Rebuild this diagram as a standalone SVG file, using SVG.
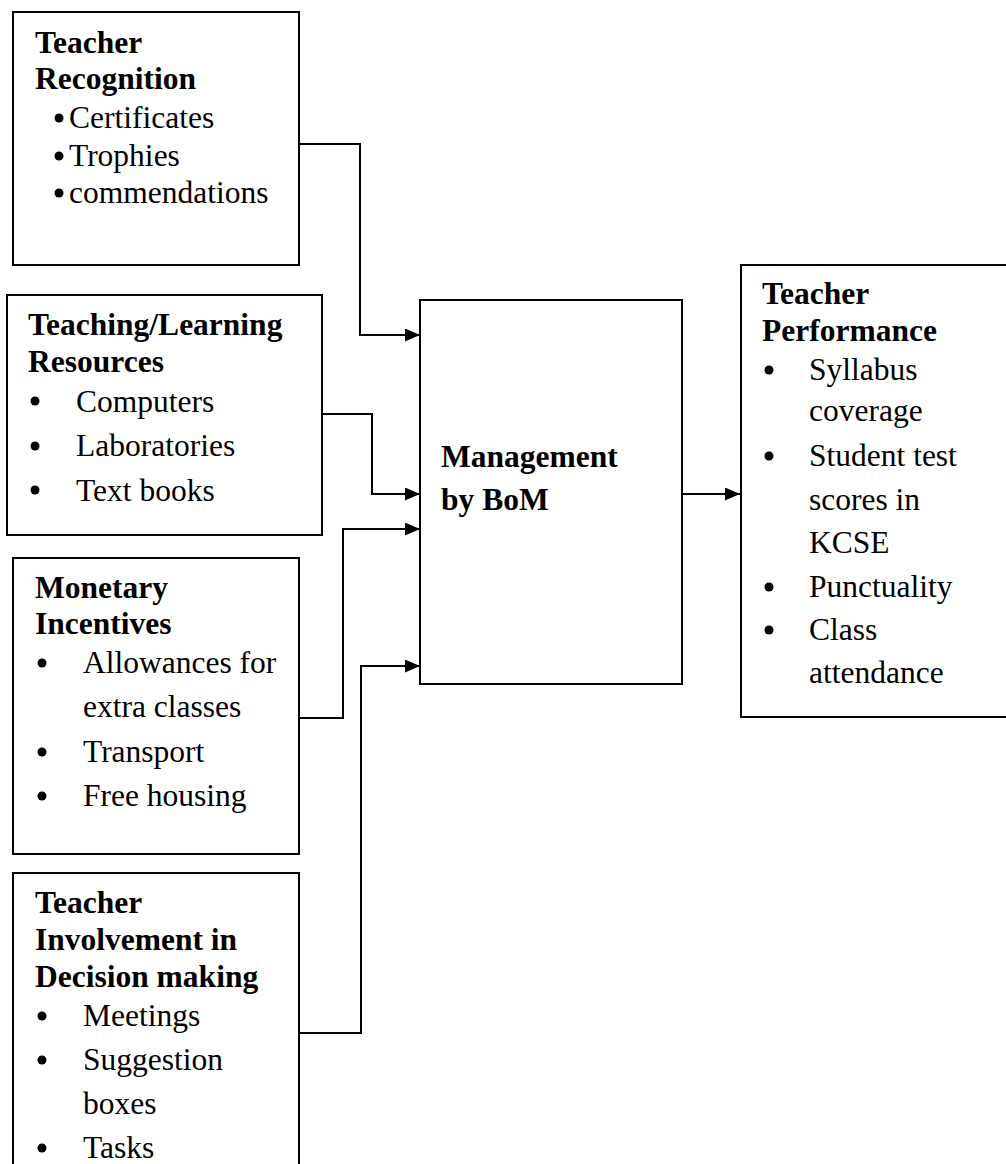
<svg xmlns="http://www.w3.org/2000/svg" width="1006" height="1164" viewBox="0 0 1006 1164">
<style>
  .box { fill: #ffffff; stroke: #000000; stroke-width: 2; }
  .conn { fill: none; stroke: #000000; stroke-width: 2; }
  text { font-family: "Liberation Serif", "Times New Roman", serif; font-size: 31.5px; fill: #000000; }
  .title { font-weight: bold; }
  .dot { fill: #000000; }
</style>
<defs>
  <marker id="arrow" markerUnits="userSpaceOnUse" markerWidth="16" markerHeight="14" refX="15" refY="6.5" orient="auto">
    <path d="M0,0 L15,6.5 L0,13 Z" fill="#000000"/>
  </marker>
</defs>
<rect width="1006" height="1164" fill="#ffffff"/>

<g id="connectors">
  <polyline class="conn" points="299,144 360,144 360,335 420,335" marker-end="url(#arrow)"/>
  <polyline class="conn" points="322,414 372,414 372,494 420,494" marker-end="url(#arrow)"/>
  <polyline class="conn" points="299,718 343,718 343,529 420,529" marker-end="url(#arrow)"/>
  <polyline class="conn" points="299,1033 361,1033 361,666 420,666" marker-end="url(#arrow)"/>
  <line class="conn" x1="682" y1="494" x2="740" y2="494" marker-end="url(#arrow)"/>
</g>

<g id="teacher-recognition">
  <rect class="box" x="13" y="12" width="286" height="253"/>
  <text class="title" x="35" y="53">Teacher</text>
  <text class="title" x="35" y="89">Recognition</text>
  <circle class="dot" cx="59" cy="118" r="4.5"/>
  <text x="69" y="128">Certificates</text>
  <circle class="dot" cx="59" cy="156" r="4.5"/>
  <text x="69" y="166">Trophies</text>
  <circle class="dot" cx="59" cy="193" r="4.5"/>
  <text x="69" y="203">commendations</text>
</g>

<g id="teaching-learning-resources">
  <rect class="box" x="7" y="295" width="315" height="240"/>
  <text class="title" x="28" y="335">Teaching/Learning</text>
  <text class="title" x="28" y="372">Resources</text>
  <circle class="dot" cx="35" cy="401" r="4.5"/>
  <text x="76" y="412">Computers</text>
  <circle class="dot" cx="35" cy="446" r="4.5"/>
  <text x="76" y="456">Laboratories</text>
  <circle class="dot" cx="35" cy="490" r="4.5"/>
  <text x="76" y="501">Text books</text>
</g>

<g id="monetary-incentives">
  <rect class="box" x="13" y="558" width="286" height="296"/>
  <text class="title" x="35" y="598">Monetary</text>
  <text class="title" x="35" y="634">Incentives</text>
  <circle class="dot" cx="42" cy="663" r="4.5"/>
  <text x="83" y="673">Allowances for</text>
  <text x="83" y="717">extra classes</text>
  <circle class="dot" cx="42" cy="752" r="4.5"/>
  <text x="83" y="762">Transport</text>
  <circle class="dot" cx="42" cy="796" r="4.5"/>
  <text x="83" y="806">Free housing</text>
</g>

<g id="teacher-involvement">
  <rect class="box" x="13" y="873" width="286" height="300"/>
  <text class="title" x="35" y="913">Teacher</text>
  <text class="title" x="35" y="950">Involvement in</text>
  <text class="title" x="35" y="987">Decision making</text>
  <circle class="dot" cx="42" cy="1016" r="4.5"/>
  <text x="83" y="1026">Meetings</text>
  <circle class="dot" cx="42" cy="1060" r="4.5"/>
  <text x="83" y="1070">Suggestion</text>
  <text x="83" y="1114">boxes</text>
  <circle class="dot" cx="42" cy="1148" r="4.5"/>
  <text x="83" y="1158">Tasks</text>
</g>

<g id="management-by-bom">
  <rect class="box" x="420" y="300" width="262" height="384"/>
  <text class="title" x="441" y="467">Management</text>
  <text class="title" x="441" y="510">by BoM</text>
</g>

<g id="teacher-performance">
  <rect class="box" x="741" y="265" width="280" height="452"/>
  <text class="title" x="762" y="304">Teacher</text>
  <text class="title" x="762" y="341">Performance</text>
  <circle class="dot" cx="769" cy="370" r="4.5"/>
  <text x="809" y="380">Syllabus</text>
  <text x="809" y="421">coverage</text>
  <circle class="dot" cx="769" cy="456" r="4.5"/>
  <text x="809" y="466">Student test</text>
  <text x="809" y="510">scores in</text>
  <text x="809" y="553">KCSE</text>
  <circle class="dot" cx="769" cy="587" r="4.5"/>
  <text x="809" y="597">Punctuality</text>
  <circle class="dot" cx="769" cy="630" r="4.5"/>
  <text x="809" y="640">Class</text>
  <text x="809" y="683">attendance</text>
</g>
</svg>
